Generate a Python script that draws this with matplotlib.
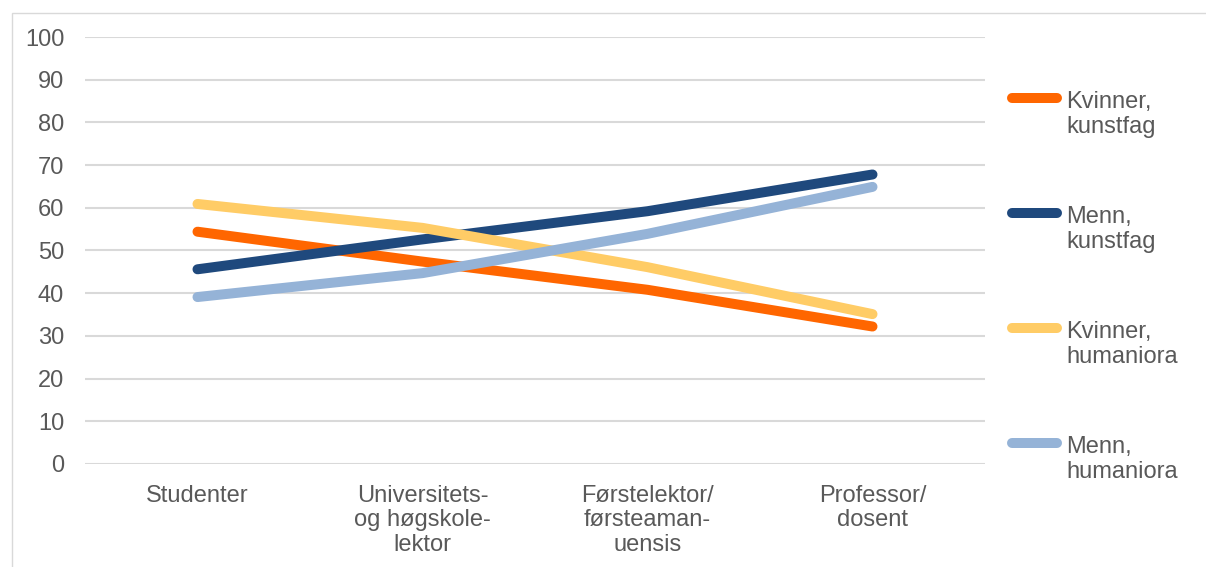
import matplotlib.pyplot as plt
from matplotlib.lines import Line2D
from matplotlib.patches import Rectangle

plt.rcParams['font.family'] = ['Liberation Sans', 'DejaVu Sans']

# Data
categories = ['Studenter', 'Universitets-\nog høgskole-\nlektor',
              'Førstelektor/\nførsteaman-\nuensis', 'Professor/\ndosent']
kvinner_kunstfag = [54.4, 47.4, 40.8, 32.2]
menn_kunstfag = [45.6, 52.6, 59.2, 67.8]
kvinner_humaniora = [60.9, 55.3, 46.1, 35.1]
menn_humaniora = [39.1, 44.7, 53.9, 64.9]
series_labels = ['Kvinner,\nkunstfag', 'Menn,\nkunstfag', 'Kvinner,\nhumaniora', 'Menn,\nhumaniora']
colors = ['#FF6600', '#1F497D', '#FFCC66', '#95B3D7']
yticks = list(range(0, 101, 10))

fig = plt.figure(figsize=(12.06, 5.67), dpi=100)
# ramme rundt diagrammet
fig.add_artist(Rectangle((12 / 1206, -0.1), 1.1, 0.1 + (567 - 13) / 567,
                         transform=fig.transFigure, fill=False,
                         edgecolor='#D9D9D9', linewidth=1))

ax = fig.add_axes([85 / 1206, (567 - 464) / 567, 900 / 1206, 427 / 567])

all_series = [kvinner_kunstfag, menn_kunstfag, kvinner_humaniora, menn_humaniora]
x = list(range(len(categories)))
for values, c in zip(all_series, colors):
    ax.plot(x, values, color=c, linewidth=7.2, solid_capstyle='round',
            solid_joinstyle='round')

ax.set_xlim(-0.5, len(categories) - 0.5)
ax.set_ylim(0, 100)
ax.set_yticks(yticks)
ax.set_xticks(x)
ax.set_xticklabels(categories, linespacing=1.15)
ax.tick_params(length=0, labelsize=17, labelcolor='#595959')
ax.tick_params(axis='y', pad=15)
ax.tick_params(axis='x', pad=15)
ax.grid(axis='y', color='#D9D9D9', linewidth=1.5)
ax.set_axisbelow(True)
for s in ax.spines.values():
    s.set_visible(False)

# Legende til høyre
leg_y = [0.857, 0.588, 0.3185, 0.049]
for lab, c, ly in zip(series_labels, colors, leg_y):
    ax.add_line(Line2D([1.03, 1.08], [ly, ly], transform=ax.transAxes, color=c,
                       linewidth=7.2, solid_capstyle='round', clip_on=False))
    # va='baseline' følger siste linje
    ax.text(1.090, ly - 0.082, lab, transform=ax.transAxes, va='baseline', ha='left',
            fontsize=17, color='#595959', linespacing=1.2)

plt.savefig('out.png', dpi=100)
